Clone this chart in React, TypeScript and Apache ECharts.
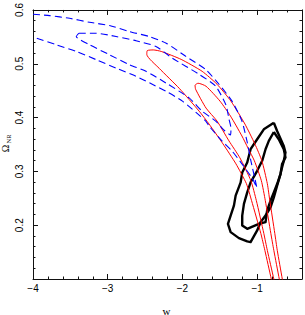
import React, { useEffect, useRef } from "react";
import * as echarts from "echarts";

type Pt = [number, number];

const xMajorTicks = [-4, -3, -2, -1];
const yMajorTicks = [0.2, 0.3, 0.4, 0.5, 0.6];

const blueOuter: Pt[] = [
  [-4.0, 0.592], [-3.777, 0.5895], [-3.511, 0.5845], [-3.244, 0.5771], [-2.977, 0.571],
  [-2.711, 0.56], [-2.444, 0.5506], [-2.217, 0.5383], [-1.955, 0.5137], [-1.688, 0.4891],
  [-1.511, 0.4619], [-1.337, 0.4305], [-1.204, 0.3935], [-1.137, 0.3566], [-1.084, 0.3196],
  [-1.024, 0.2826], [-1.004, 0.2697], [-1.071, 0.2882], [-1.204, 0.314], [-1.337, 0.338],
  [-1.471, 0.3566], [-1.644, 0.3843], [-1.688, 0.3935], [-2.0, 0.4305], [-2.221, 0.449],
  [-2.404, 0.4619], [-2.621, 0.4767], [-2.888, 0.492], [-3.155, 0.5076], [-3.421, 0.5229],
  [-3.688, 0.5353], [-3.955, 0.5475], [-4.0, 0.5497],
];

const blueInner: Pt[] = [
  [-3.387, 0.5567], [-3.155, 0.5567], [-2.888, 0.5506], [-2.621, 0.5427], [-2.355, 0.5322],
  [-2.137, 0.5105], [-1.777, 0.4804], [-1.555, 0.4582], [-1.417, 0.4231], [-1.377, 0.3972],
  [-1.351, 0.3806], [-1.357, 0.3677], [-1.431, 0.375], [-1.555, 0.3935], [-1.737, 0.412],
  [-1.911, 0.4366], [-2.221, 0.4643], [-2.488, 0.486], [-2.711, 0.4983], [-2.977, 0.5168],
  [-3.244, 0.5353], [-3.421, 0.5506], [-3.387, 0.5567],
];

const redOuter: Pt[] = [
  [-0.779, 0.08], [-0.811, 0.1], [-0.897, 0.1532], [-0.951, 0.1847], [-1.075, 0.2457],
  [-1.144, 0.2771], [-1.284, 0.314], [-1.457, 0.351], [-1.644, 0.388], [-1.777, 0.412],
  [-2.044, 0.4545], [-2.311, 0.4915], [-2.477, 0.5174], [-2.47, 0.5245], [-2.391, 0.5257],
  [-2.284, 0.5229], [-2.017, 0.5081], [-1.737, 0.486], [-1.537, 0.4619], [-1.351, 0.4305],
  [-1.164, 0.388], [-1.031, 0.351], [-0.937, 0.3196], [-0.864, 0.2771], [-0.831, 0.2457],
  [-0.764, 0.1847], [-0.731, 0.1532], [-0.664, 0.1], [-0.64, 0.08],
];

const redInner: Pt[] = [
  [-0.745, 0.08], [-0.777, 0.1], [-0.864, 0.1532], [-0.911, 0.1847], [-1.011, 0.2457],
  [-1.084, 0.2826], [-1.231, 0.3251], [-1.377, 0.3566], [-1.537, 0.3935], [-1.684, 0.4176],
  [-1.824, 0.4527], [-1.831, 0.46], [-1.791, 0.4638], [-1.684, 0.4582], [-1.497, 0.4305],
  [-1.357, 0.4028], [-1.204, 0.3658], [-1.124, 0.3436], [-1.037, 0.3196], [-0.944, 0.2826],
  [-0.891, 0.2457], [-0.817, 0.1847], [-0.777, 0.1532], [-0.704, 0.1], [-0.676, 0.08],
];

const blackOuter: Pt[] = [
  [-0.777, 0.3904], [-0.733, 0.375], [-0.644, 0.3473], [-0.621, 0.3349], [-0.644, 0.3196],
  [-0.667, 0.3072], [-0.688, 0.295], [-0.733, 0.2734], [-0.777, 0.2518], [-0.821, 0.2333],
  [-0.888, 0.2179], [-0.955, 0.2056], [-1.0, 0.1902], [-1.088, 0.1686], [-1.133, 0.1699],
  [-1.244, 0.176], [-1.355, 0.1871], [-1.391, 0.2026], [-1.355, 0.2179], [-1.311, 0.2364],
  [-1.288, 0.2549], [-1.221, 0.2795], [-1.2, 0.298], [-1.133, 0.3164], [-1.088, 0.3412],
  [-1.0, 0.3597], [-0.911, 0.3782], [-0.777, 0.3904],
];

const blackInner: Pt[] = [
  [-0.777, 0.3732], [-0.711, 0.3597], [-0.644, 0.3412], [-0.621, 0.3257], [-0.667, 0.3135],
  [-0.688, 0.295], [-0.733, 0.2765], [-0.777, 0.261], [-0.821, 0.2457], [-0.867, 0.2272],
  [-0.888, 0.2056], [-0.977, 0.2026], [-1.133, 0.1933], [-1.2, 0.1995], [-1.2, 0.2179],
  [-1.177, 0.2396], [-1.133, 0.261], [-1.088, 0.2795], [-1.0, 0.3011], [-0.933, 0.3196],
  [-0.888, 0.3412], [-0.844, 0.3566], [-0.777, 0.3732],
];

const X_MIN = -4;
const X_MAX = -0.4;
const Y_MIN = 0.1;
const Y_MAX = 0.6;

const AX = "#111";
const TICK_FONT = "Liberation Sans";

export default function App() {
  const ref = useRef<HTMLDivElement>(null);
  useEffect(() => {
    if (!ref.current) return;
    const chart = echarts.init(ref.current, null, { renderer: "svg" });

    const fmtX = (v: number) => {
      const r = Math.round(v);
      if (Math.abs(v - r) > 1e-6 || !xMajorTicks.includes(r)) return "";
      return (r < 0 ? "\u2212" : "") + Math.abs(r);
    };
    const fmtY = (v: number) => {
      const r = Math.round(v * 10) / 10;
      return yMajorTicks.some((t) => Math.abs(t - r) < 1e-6) ? r.toFixed(1) : "";
    };

    const xBase = {
      type: "value" as const,
      min: X_MIN,
      max: X_MAX,
      splitLine: { show: false },
    };

    const contour = (data: Pt[], color: string, width: number, dashed: boolean, smooth: number) => ({
      type: "line" as const,
      data,
      showSymbol: false,
      symbol: "none",
      smooth,
      clip: true,
      xAxisIndex: 0,
      yAxisIndex: 0,
      lineStyle: {
        color,
        width,
        type: dashed ? [7, 4] : "solid",
        cap: "butt" as const,
        join: "round" as const,
      },
      silent: true,
    });

    chart.setOption({
      animation: false,
      backgroundColor: "#fff",
      grid: { left: 33, right: 2, top: 8, bottom: 36, containLabel: false },
      xAxis: [
        {
          ...xBase,
          position: "bottom",
          interval: 1,
          axisLine: { show: true, onZero: false, lineStyle: { color: AX, width: 1 } },
          axisTick: { show: true, inside: true, length: 5, lineStyle: { color: AX, width: 1 } },
          axisLabel: {
            show: true,
            formatter: fmtX,
            margin: 4,
            color: "#000",
            fontSize: 10,
            fontFamily: TICK_FONT,
          },
        },
        {
          ...xBase,
          position: "top",
          interval: 1,
          axisLine: { show: true, onZero: false, lineStyle: { color: AX, width: 1 } },
          axisTick: { show: true, inside: true, length: 5, lineStyle: { color: AX, width: 1 } },
          axisLabel: { show: false },
        },
        {
          ...xBase,
          position: "top",
          interval: 0.2,
          axisLine: { show: false, onZero: false },
          axisTick: { show: true, inside: true, length: 2.5, lineStyle: { color: AX, width: 1 } },
          axisLabel: { show: false },
        },
        {
          ...xBase,
          position: "bottom",
          interval: 0.2,
          axisLine: { show: false, onZero: false },
          axisTick: { show: true, inside: true, length: 2.5, lineStyle: { color: AX, width: 1 } },
          axisLabel: { show: false },
        },
      ],
      yAxis: [
        {
          type: "value",
          position: "left",
          min: Y_MIN,
          max: Y_MAX,
          interval: 0.1,
          splitLine: { show: false },
          axisLine: { show: true, onZero: false, lineStyle: { color: AX, width: 1 } },
          axisTick: { show: true, inside: true, length: 5, lineStyle: { color: AX, width: 1 } },
          minorTick: { show: true, splitNumber: 5, length: 2.5, lineStyle: { color: AX, width: 1 } },
          axisLabel: {
            show: true,
            rotate: 90,
            formatter: fmtY,
            showMinLabel: false,
            margin: 9,
            color: "#000",
            fontSize: 10,
            fontFamily: TICK_FONT,
          },
        },
        {
          type: "value",
          position: "right",
          min: Y_MIN,
          max: Y_MAX,
          interval: 0.1,
          splitLine: { show: false },
          axisLine: { show: true, onZero: false, lineStyle: { color: AX, width: 1 } },
          axisTick: { show: true, inside: true, length: 5, lineStyle: { color: AX, width: 1 } },
          minorTick: { show: true, splitNumber: 5, length: 2.5, lineStyle: { color: AX, width: 1 } },
          axisLabel: { show: false },
        },
      ],
      series: [
        contour(blackOuter, "#000", 2.4, false, 0),
        contour(blackInner, "#000", 2.4, false, 0),
        contour(redOuter, "#ff0000", 1, false, 0.2),
        contour(redInner, "#ff0000", 1, false, 0.2),
        contour(blueOuter, "#0000ff", 1.1, true, 0.2),
        contour(blueInner, "#0000ff", 1.1, true, 0.2),
      ],
      graphic: [
        {
          type: "text",
          x: 166.5,
          y: 310.5,
          style: {
            text: "w",
            font: '11px "Liberation Serif"',
            fill: "#000",
            align: "center",
            verticalAlign: "middle",
          },
        },
        {
          type: "text",
          x: 5,
          y: 148.5,
          rotation: Math.PI / 2,
          style: {
            text: "\u03A9",
            font: '10px "Liberation Serif"',
            fill: "#000",
            align: "center",
            verticalAlign: "middle",
          },
        },
        {
          type: "text",
          x: 8.7,
          y: 139,
          rotation: Math.PI / 2,
          style: {
            text: "NR",
            font: '6.5px "Liberation Serif"',
            fill: "#000",
            align: "center",
            verticalAlign: "middle",
          },
        },
      ],
    });

    return () => chart.dispose();
  }, []);

  return (
    <div
      ref={ref}
      style={{ position: "absolute", left: 0, top: 0, width: 305, height: 315, background: "#fff" }}
    />
  );
}
